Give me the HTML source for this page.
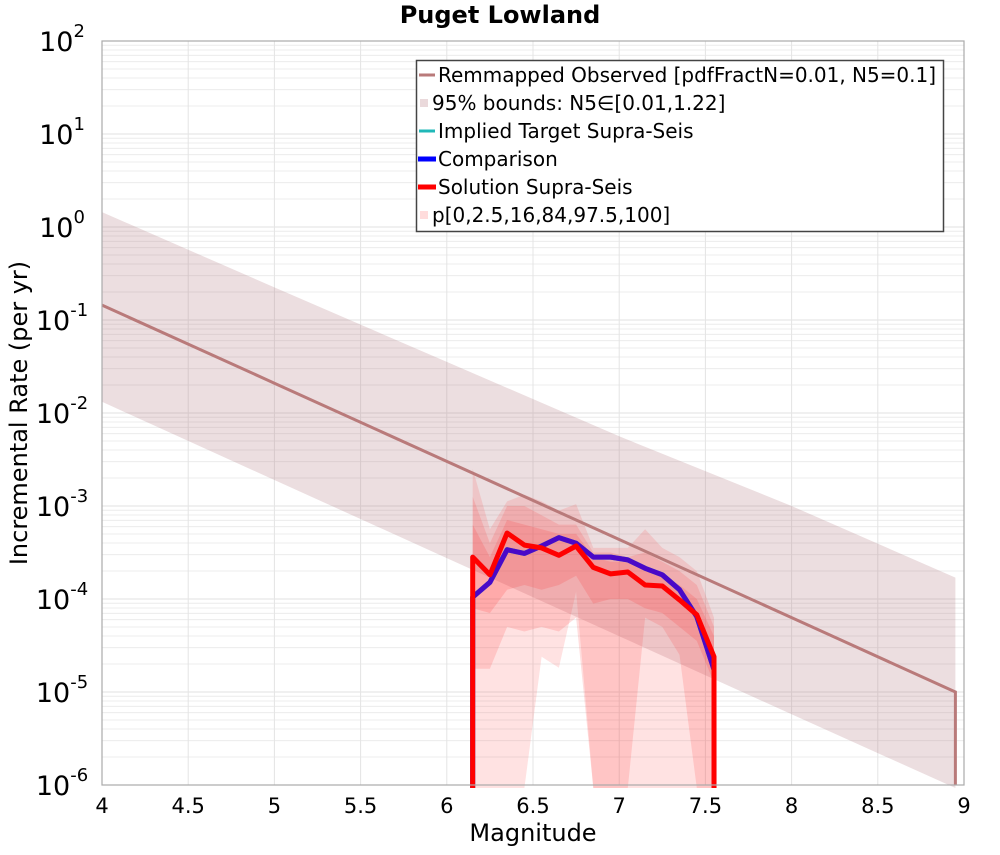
<!DOCTYPE html>
<html><head><meta charset="utf-8"><style>
body{margin:0;background:#fff;}
svg text{font-family:"DejaVu Sans","Liberation Sans",sans-serif;fill:#000;}
</style></head><body>
<svg id="chart" width="1000" height="850" xmlns="http://www.w3.org/2000/svg">
<text x="500" y="23" text-anchor="middle" font-size="24" font-weight="bold">Puget Lowland</text>
<g id="grid"></g>
<g id="plot"></g>
<rect x="102" y="41" width="862" height="744" fill="none" stroke="#aaa" stroke-width="1.2"/>
<g id="ticks"></g>
<text x="533" y="841" text-anchor="middle" font-size="24">Magnitude</text>
<text transform="translate(27,413) rotate(-90)" text-anchor="middle" font-size="24">Incremental Rate (per yr)</text>
<g>
<rect x="416.5" y="60.5" width="527" height="171" fill="#fff" stroke="#444" stroke-width="1.5"/>
<line x1="419" y1="75" x2="435" y2="75" stroke="#b97a7a" stroke-width="3"/>
<text x="438" y="82" font-size="20" textLength="498">Remmapped Observed [pdfFractN=0.01, N5=0.1]</text>
<rect x="420" y="99" width="8" height="8" fill="#ead9db"/>
<text x="432" y="110" font-size="20">95% bounds: N5∈[0.01,1.22]</text>
<line x1="419" y1="131" x2="435" y2="131" stroke="#20b8b8" stroke-width="3"/>
<text x="438" y="138" font-size="20">Implied Target Supra-Seis</text>
<line x1="418" y1="159" x2="436" y2="159" stroke="#0000ff" stroke-width="5"/>
<text x="438" y="166" font-size="20">Comparison</text>
<line x1="418" y1="187" x2="436" y2="187" stroke="#ff0000" stroke-width="5"/>
<text x="438" y="194" font-size="20">Solution Supra-Seis</text>
<rect x="420" y="211" width="8" height="8" fill="#ffdcdc"/>
<text x="432" y="222" font-size="20">p[0,2.5,16,84,97.5,100]</text>
</g>
</svg>
<script>
const obsM=[4,5,6,7,8,8.95];
const obsLog=[-0.84,-1.68,-2.52,-3.36,-4.20,-5.0];
const upLog=[0.16,-0.65,-1.45,-2.25,-3.0,-3.77];
const loLog=[-1.88,-2.72,-3.56,-4.4,-5.24,-6.04];
const solM=[6.15,6.25,6.35,6.45,6.55,6.65,6.75,6.85,6.95,7.05,7.15,7.25,7.35,7.45,7.55];
const solLog=[-3.55,-3.74,-3.29,-3.42,-3.45,-3.53,-3.43,-3.66,-3.73,-3.71,-3.85,-3.86,-4.01,-4.17,-4.62];
const cmpLog=[-3.98,-3.82,-3.47,-3.51,-3.43,-3.34,-3.40,-3.55,-3.55,-3.58,-3.67,-3.74,-3.90,-4.19,-4.76];
const p100=[-2.6,-3.25,-2.95,-2.88,-2.95,-3.05,-2.98,-3.45,-3.45,-3.45,-3.25,-3.45,-3.55,-3.7,-4.2];
const p975=[-2.9,-3.4,-3.0,-3.0,-3.1,-3.2,-3.2,-3.5,-3.5,-3.55,-3.5,-3.6,-3.7,-3.85,-4.3];
const p84=[-3.2,-3.55,-3.15,-3.2,-3.25,-3.3,-3.3,-3.55,-3.6,-3.6,-3.7,-3.75,-3.85,-4.0,-4.4];
const p16=[-4.1,-4.15,-3.9,-3.85,-3.9,-3.85,-3.75,-4.05,-4.0,-4.0,-4.1,-4.15,-4.3,-4.45,-4.9];
const p25=[-4.75,-4.75,-4.3,-4.35,-4.3,-4.35,-4.2,-6.5,-6.5,-6.5,-4.2,-4.3,-4.6,-6.5,-6.5];
const p0=[-6.5,-6.5,-6.5,-6.5,-4.62,-4.74,-3.92,-6.5,-6.5,-6.5,-6.5,-6.5,-6.5,-6.5,-6.5];
const xTicks=[4,4.5,5,5.5,6,6.5,7,7.5,8,8.5,9];
const yExp=[2,1,0,-1,-2,-3,-4,-5,-6];
const L=102,R=964,T=41,B=785;
const xs=m=>L+(m-4)/5*(R-L);
const ys=l=>Math.min(B+3,T+(2-l)/8*(B-T));
const NS="http://www.w3.org/2000/svg";
function mk(parent,tag,attrs){const e=document.createElementNS(NS,tag);for(const k in attrs)e.setAttribute(k,attrs[k]);document.getElementById(parent).appendChild(e);return e;}
for(let d=-6;d<2;d++){for(let k=1;k<10;k++){const y=ys(d+Math.log10(k));
const g=mk('grid','line',{x1:L,x2:R,y1:y,y2:y,stroke:k==1?'#e2e2e2':'#ececec','stroke-width':1});

}}
xTicks.forEach(m=>{const g=mk('grid','line',{x1:xs(m),x2:xs(m),y1:T,y2:B,stroke:'#e4e4e4','stroke-width':1});

});
xTicks.forEach(m=>{const t=mk('ticks','text',{x:xs(m),y:813,'text-anchor':'middle','font-size':21});t.textContent=String(m);

});
yExp.forEach(e=>{const t=mk('ticks','text',{x:62,y:ys(e)+10,'text-anchor':'middle','font-size':27});
t.innerHTML='10<tspan dy="-14" font-size="18">'+e+'</tspan>';

});
function pts(M,V){return M.map((m,i)=>xs(m).toFixed(1)+','+ys(V[i]).toFixed(1));}
function band(M,hi,lo){return pts(M,hi).concat(pts(M,lo).reverse()).join(' ');}
let bp=pts(obsM,upLog).concat([xs(8.95)+','+B]).concat(pts(obsM,loLog).reverse());
const bb=mk('plot','polygon',{points:bp.join(' '),fill:'#a86a72','fill-opacity':0.22});


const bands=[[p100,p0,0.14],[p975,p25,0.16],[p84,p16,0.18]];
bands.forEach(b=>{const p=mk('plot','polygon',{points:band(solM,b[0],b[1]),fill:'#ff3030','fill-opacity':b[2]});

});
const ol=mk('plot','polyline',{points:pts(obsM,obsLog).concat([xs(8.95)+','+B]).join(' '),fill:'none',stroke:'#b97a7a','stroke-width':3});


function series(V,col,name){const p=[xs(solM[0])+','+(B+3)].concat(pts(solM,V)).concat([xs(solM[solM.length-1])+','+(B+3)]);
const s=mk('plot','polyline',{points:p.join(' '),fill:'none',stroke:col,'stroke-width':5,'stroke-linejoin':'round'});

}
series(cmpLog,'#20b8b8','implied-target-line');
series(cmpLog,'#4a08c8','comparison-line');
series(solLog,'#ff0000','solution-line');
</script>
</body></html>
